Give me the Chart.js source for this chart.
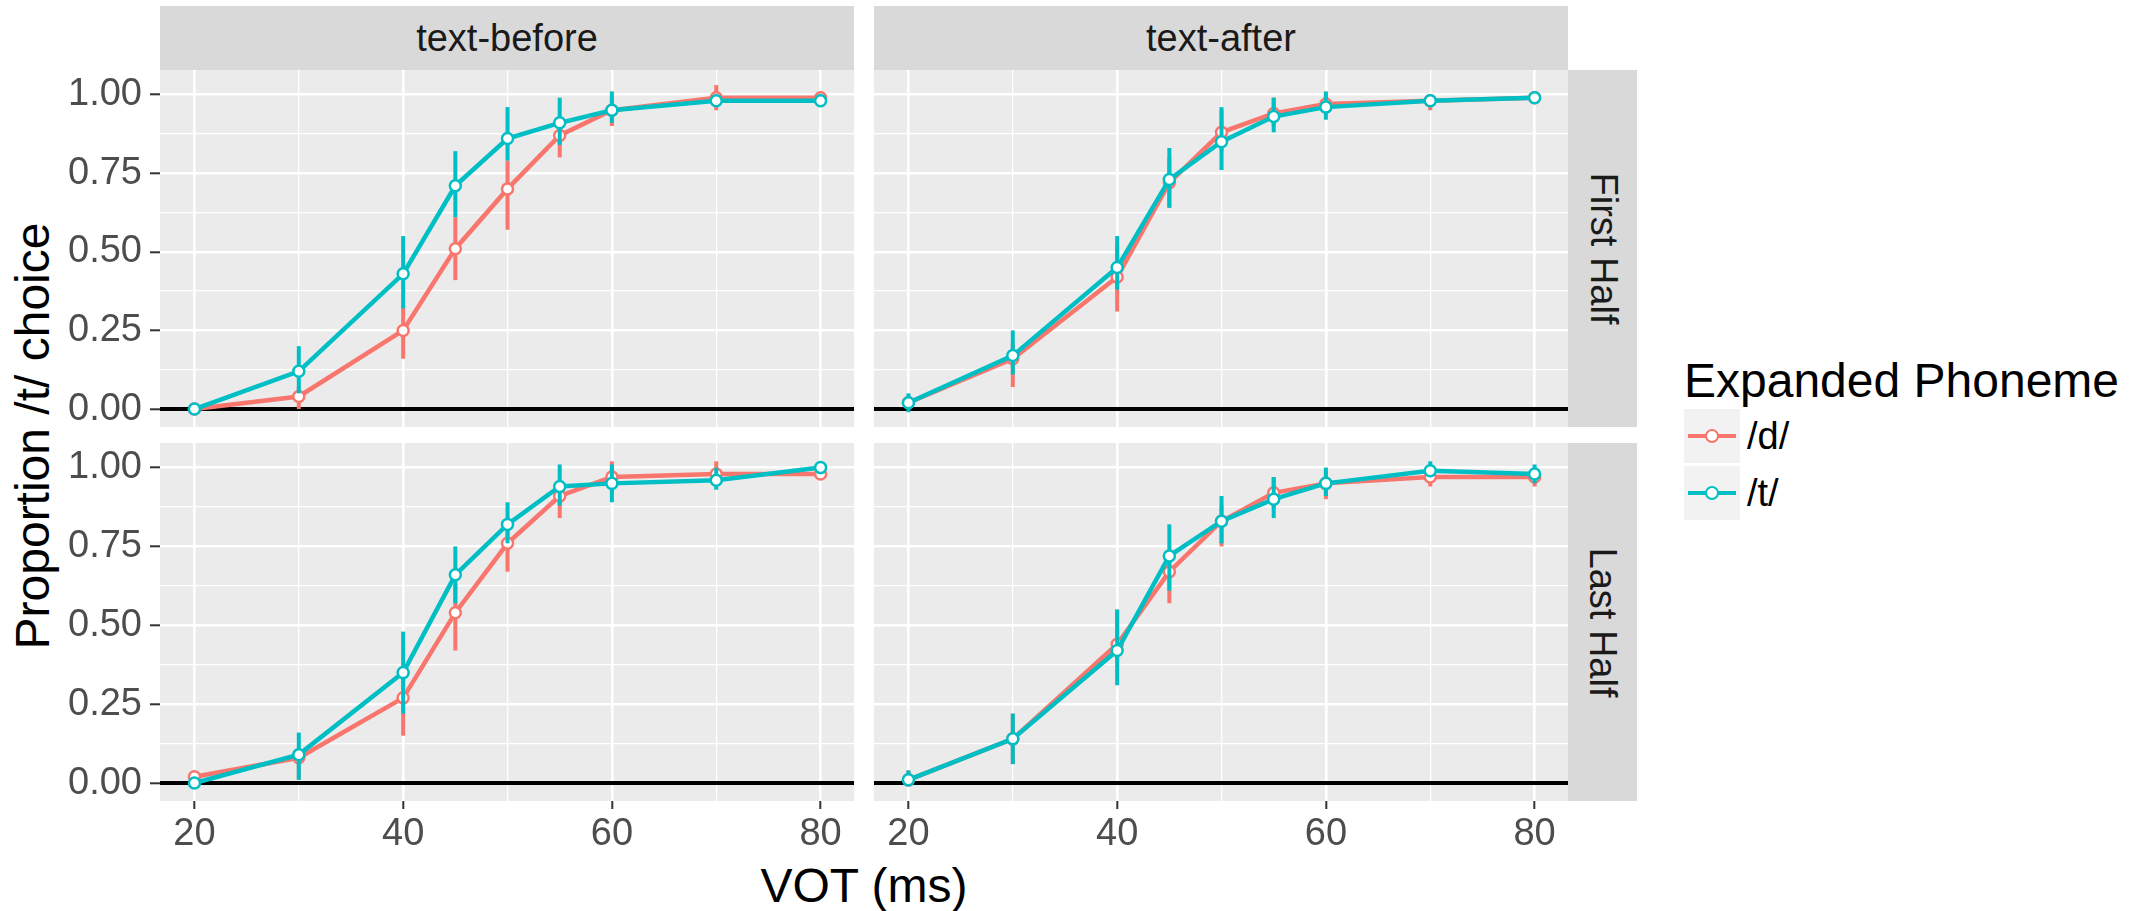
<!DOCTYPE html>
<html>
<head>
<meta charset="utf-8">
<script src="https://cdn.jsdelivr.net/npm/chart.js@4.4.1/dist/chart.umd.min.js"></script>
<style>
  body { margin: 0; background: #fff; width: 2148px; height: 911px; position: relative; overflow: hidden;
         font-family: "Liberation Sans", Arial, sans-serif; }
  canvas { position: absolute; left: 0; top: 0; }
  .strip { position: absolute; background: #D9D9D9; color: #1A1A1A; font-size: 38px;
           display: flex; align-items: center; justify-content: center; white-space: nowrap; }
  .strip.side span { transform: rotate(90deg); display: inline-block; }
  .title { position: absolute; font-size: 48px; line-height: 48px; color: #000; text-align: center; white-space: nowrap; }
  .key { position: absolute; left: 1684px; width: 56px; height: 54px; background: #F2F2F2; }
  .key .ln { position: absolute; left: 4px; right: 4px; top: 25px; height: 4px; }
  .key .pt { position: absolute; left: 21px; top: 20px; width: 10px; height: 10px; border-radius: 50%;
             background: #fff; border: 2px solid; }
  .klabel { position: absolute; left: 1747px; font-size: 38px; line-height: 38px; color: #000; }
</style>
</head>
<body>
<div class="strip" style="left:160px;top:6px;width:694px;height:64px">text-before</div>
<div class="strip" style="left:874px;top:6px;width:694px;height:64px">text-after</div>
<div class="strip side" style="left:1568px;top:70px;width:69px;height:357px"><span>First Half</span></div>
<div class="strip side" style="left:1568px;top:443px;width:69px;height:358px"><span>Last Half</span></div>

<div class="title" style="left:-317px;top:412px;width:700px;transform:rotate(-90deg)">Proportion /t/ choice</div>
<div class="title" style="left:564px;top:862px;width:600px">VOT (ms)</div>

<div class="title" style="left:1684px;top:357px;text-align:left">Expanded Phoneme</div>
<div class="key" style="top:409px"><div class="ln" style="background:#F8766D"></div><div class="pt" style="border-color:#F8766D"></div></div>
<div class="key" style="top:466px"><div class="ln" style="background:#00BFC4"></div><div class="pt" style="border-color:#00BFC4"></div></div>
<div class="klabel" style="top:417px">/d/</div>
<div class="klabel" style="top:474px">/t/</div>

<canvas id="tl" width="2148" height="911"></canvas>
<canvas id="tr" width="2148" height="911"></canvas>
<canvas id="bl" width="2148" height="911"></canvas>
<canvas id="br" width="2148" height="911"></canvas>

<script>
// VOT steps (ms)
const vot = [20, 30, 40, 45, 50, 55, 60, 70, 80];
const phonemes = ["/d/", "/t/"];
const colD = "#F8766D";
const colT = "#00BFC4";

const xBreaks = [20, 30, 40, 50, 60, 70, 80];
const xLabelled = [20, 40, 60, 80];
const yBreaks = [0, 0.125, 0.25, 0.375, 0.5, 0.625, 0.75, 0.875, 1];
const yLabelled = [0, 0.25, 0.5, 0.75, 1];
const xRange = [16.7, 83.2];
const yRange = [-0.057, 1.078];
const hlineY = 0;

// text-before, First Half
const dBeforeFirst   = [0.00, 0.04, 0.25, 0.51, 0.70, 0.87, 0.95, 0.99, 0.99];
const dBeforeFirstLo = [0.00, 0.00, 0.16, 0.41, 0.57, 0.80, 0.90, 0.95, 0.97];
const dBeforeFirstHi = [0.00, 0.07, 0.33, 0.61, 0.79, 0.92, 0.99, 1.03, 1.01];
const tBeforeFirst   = [0.00, 0.12, 0.43, 0.71, 0.86, 0.91, 0.95, 0.98, 0.98];
const tBeforeFirstLo = [0.00, 0.05, 0.32, 0.61, 0.79, 0.84, 0.91, 0.96, 0.96];
const tBeforeFirstHi = [0.00, 0.20, 0.55, 0.82, 0.96, 0.99, 1.01, 1.00, 1.00];

// text-after, First Half
const dAfterFirst   = [0.02, 0.16, 0.42, 0.72, 0.88, 0.94, 0.97, 0.98, 0.99];
const dAfterFirstLo = [0.00, 0.07, 0.31, 0.64, 0.82, 0.90, 0.94, 0.95, 0.98];
const dAfterFirstHi = [0.04, 0.21, 0.52, 0.80, 0.95, 0.99, 1.00, 1.00, 1.00];
const tAfterFirst   = [0.02, 0.17, 0.45, 0.73, 0.85, 0.93, 0.96, 0.98, 0.99];
const tAfterFirstLo = [-0.01, 0.11, 0.38, 0.64, 0.76, 0.88, 0.92, 0.97, 0.98];
const tAfterFirstHi = [0.05, 0.25, 0.55, 0.83, 0.96, 0.99, 1.01, 1.00, 1.01];

// text-before, Last Half
const dBeforeLast   = [0.02, 0.08, 0.27, 0.54, 0.76, 0.91, 0.97, 0.98, 0.98];
const dBeforeLastLo = [0.00, 0.01, 0.15, 0.42, 0.67, 0.84, 0.92, 0.95, 0.97];
const dBeforeLastHi = [0.03, 0.11, 0.35, 0.63, 0.82, 0.94, 1.02, 1.02, 1.00];
const tBeforeLast   = [0.00, 0.09, 0.35, 0.66, 0.82, 0.94, 0.95, 0.96, 1.00];
const tBeforeLastLo = [0.00, 0.01, 0.22, 0.57, 0.76, 0.88, 0.89, 0.93, 0.99];
const tBeforeLastHi = [0.00, 0.16, 0.48, 0.75, 0.89, 1.01, 1.01, 1.00, 1.01];

// text-after, Last Half
const dAfterLast   = [0.01, 0.14, 0.44, 0.67, 0.83, 0.92, 0.95, 0.97, 0.97];
const dAfterLastLo = [-0.01, 0.06, 0.38, 0.57, 0.75, 0.87, 0.90, 0.94, 0.94];
const dAfterLastHi = [0.04, 0.22, 0.55, 0.73, 0.88, 0.97, 0.99, 0.99, 0.99];
const tAfterLast   = [0.01, 0.14, 0.42, 0.72, 0.83, 0.90, 0.95, 0.99, 0.98];
const tAfterLastLo = [-0.01, 0.06, 0.31, 0.61, 0.76, 0.84, 0.91, 0.97, 0.95];
const tAfterLastHi = [0.04, 0.22, 0.55, 0.82, 0.91, 0.97, 1.00, 1.02, 1.01];

const FONT = "'Liberation Sans', Arial, sans-serif";
const has = (arr, v) => arr.some((a) => Math.abs(a - v) < 1e-6);

// panel background
const panelBg = {
  id: "panelBg",
  beforeDraw(chart) {
    const a = chart.chartArea;
    chart.ctx.save();
    chart.ctx.fillStyle = "#EBEBEB";
    chart.ctx.fillRect(a.left, a.top, a.right - a.left, a.bottom - a.top);
    chart.ctx.restore();
  },
};

// black reference line at y = 0
const zeroLine = {
  id: "zeroLine",
  beforeDatasetsDraw(chart) {
    const a = chart.chartArea;
    const py = chart.scales.y.getPixelForValue(hlineY);
    const ctx = chart.ctx;
    ctx.save();
    ctx.strokeStyle = "#000";
    ctx.lineWidth = 4;
    ctx.beginPath();
    ctx.moveTo(a.left, py);
    ctx.lineTo(a.right, py);
    ctx.stroke();
    ctx.restore();
  },
};

// vertical error bars, drawn under each line
const errorBars = {
  id: "errorBars",
  beforeDatasetDraw(chart, args) {
    const ds = chart.data.datasets[args.index];
    if (!ds.lo) return;
    const x = chart.scales.x;
    const y = chart.scales.y;
    const ctx = chart.ctx;
    ctx.save();
    ctx.strokeStyle = ds.borderColor;
    ctx.lineWidth = 4;
    ds.data.forEach((p, i) => {
      const px = x.getPixelForValue(p.x);
      ctx.beginPath();
      ctx.moveTo(px, y.getPixelForValue(ds.lo[i]));
      ctx.lineTo(px, y.getPixelForValue(ds.hi[i]));
      ctx.stroke();
    });
    ctx.restore();
  },
};

function series(label, vals, lo, hi, color, order) {
  return {
    label: label,
    data: vot.map((v, i) => ({ x: v, y: vals[i] })),
    lo: lo,
    hi: hi,
    order: order,
    borderColor: color,
    borderWidth: 4.5,
    pointRadius: 5.5,
    pointBackgroundColor: "#FFFFFF",
    pointBorderColor: color,
    pointBorderWidth: 2.5,
    tension: 0,
  };
}

const panels = [
  { id: "tl", left: 160, top: 70, right: 854, bottom: 427, showX: false, showY: true,
    d: [dBeforeFirst, dBeforeFirstLo, dBeforeFirstHi], t: [tBeforeFirst, tBeforeFirstLo, tBeforeFirstHi] },
  { id: "tr", left: 874, top: 70, right: 1568, bottom: 427, showX: false, showY: false,
    d: [dAfterFirst, dAfterFirstLo, dAfterFirstHi], t: [tAfterFirst, tAfterFirstLo, tAfterFirstHi] },
  { id: "bl", left: 160, top: 443, right: 854, bottom: 801, showX: true, showY: true,
    d: [dBeforeLast, dBeforeLastLo, dBeforeLastHi], t: [tBeforeLast, tBeforeLastLo, tBeforeLastHi] },
  { id: "br", left: 874, top: 443, right: 1568, bottom: 801, showX: true, showY: false,
    d: [dAfterLast, dAfterLastLo, dAfterLastHi], t: [tAfterLast, tAfterLastLo, tAfterLastHi] },
];

const yAxisW = 160;
const xAxisH = 69;

panels.forEach((p) => {
  const yw = p.showY ? yAxisW : 0;
  const xh = p.showX ? xAxisH : 0;
  new Chart(document.getElementById(p.id), {
    type: "line",
    data: {
      datasets: [
        series(phonemes[0], p.d[0], p.d[1], p.d[2], colD, 2),
        series(phonemes[1], p.t[0], p.t[1], p.t[2], colT, 1),
      ],
    },
    options: {
      responsive: false,
      animation: false,
      devicePixelRatio: 1,
      events: [],
      layout: {
        padding: { left: p.left - yw, top: p.top, right: 2148 - p.right, bottom: 911 - p.bottom - xh },
      },
      plugins: { legend: { display: false }, tooltip: { enabled: false } },
      scales: {
        x: {
          type: "linear",
          min: xRange[0],
          max: xRange[1],
          afterBuildTicks: (s) => { s.ticks = xBreaks.map((v) => ({ value: v })); },
          afterFit: (s) => { s.height = xh; },
          border: { display: false },
          grid: {
            color: "#FFFFFF",
            lineWidth: (c) => (c.tick && has(xLabelled, c.tick.value) ? 2.6 : 1.3),
            drawTicks: p.showX,
            tickLength: 8,
            tickWidth: 2,
            tickColor: (c) => (c.tick && has(xLabelled, c.tick.value) ? "#333333" : "rgba(0,0,0,0)"),
          },
          ticks: {
            display: p.showX,
            autoSkip: false,
            maxRotation: 0,
            padding: 3,
            color: "#4D4D4D",
            font: { family: FONT, size: 38 },
            callback: (v) => (has(xLabelled, v) ? String(v) : ""),
          },
        },
        y: {
          type: "linear",
          min: yRange[0],
          max: yRange[1],
          afterBuildTicks: (s) => { s.ticks = yBreaks.map((v) => ({ value: v })); },
          afterFit: (s) => { s.width = yw; },
          border: { display: false },
          grid: {
            color: "#FFFFFF",
            lineWidth: (c) => (c.tick && has(yLabelled, c.tick.value) ? 2.6 : 1.3),
            drawTicks: p.showY,
            tickLength: 10,
            tickWidth: 2,
            tickColor: (c) => (c.tick && has(yLabelled, c.tick.value) ? "#333333" : "rgba(0,0,0,0)"),
          },
          ticks: {
            display: p.showY,
            autoSkip: false,
            padding: 8,
            color: "#4D4D4D",
            font: { family: FONT, size: 38 },
            callback: (v) => (has(yLabelled, v) ? v.toFixed(2) : ""),
          },
        },
      },
    },
    plugins: [panelBg, zeroLine, errorBars],
  });
});
</script>
</body>
</html>
